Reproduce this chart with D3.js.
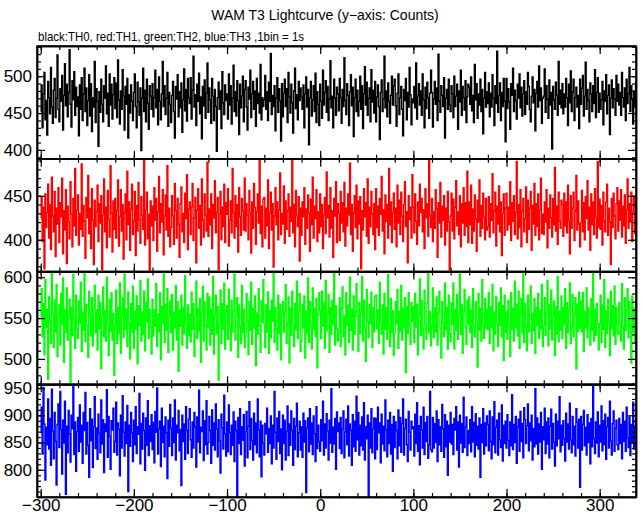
<!DOCTYPE html>
<html><head><meta charset="utf-8">
<script src="https://cdn.jsdelivr.net/npm/d3@7"></script>
<style>body{margin:0;background:#fff}svg{display:block}text{font-family:"Liberation Sans",Arial,Helvetica,sans-serif}</style>
</head><body><svg id="c" width="643" height="515"></svg>
<script>
const title = "WAM T3 Lightcurve (y\u2212axis: Counts)";
const subtitle = "black:TH0, red:TH1, green:TH2, blue:TH3 ,1bin = 1s";
const seriesNames = ["TH0","TH1","TH2","TH3"];
const seriesColors = ["#000000","#ff0000","#00ff00","#0000ff"];
const tStart = -300;
const xDomain = [-304, 339];
const xMajorTicks = [-300,-200,-100,0,100,200,300];
const yDomains = [[388,541],[364,492],[469,607],[750,957]];
const yMajorTicks = [[400,450,500],[400,450],[500,550,600],[800,850,900,950]];

const th0 = [
452,488,430,476,505,441,467,420,493,471,449,512,458,436,481,497,444,470,529,455,
438,483,466,501,427,474,517,460,489,445,478,536,462,431,494,468,506,447,485,459,
472,419,488,455,498,440,476,511,452,484,433,467,502,446,490,425,471,458,520,437,
483,466,405,479,451,496,462,438,487,470,514,449,477,432,503,461,489,442,475,498,
456,491,444,522,468,435,480,455,509,473,427,486,462,497,416,475,450,488,466,440,
478,503,459,430,492,465,447,484,399,470,511,452,481,438,496,463,428,487,473,455,
490,445,471,508,457,482,434,499,466,441,476,520,459,487,448,470,505,432,478,462,
437,474,493,452,416,486,469,502,445,479,457,491,424,468,510,453,482,439,497,471,
463,498,442,481,527,458,475,433,489,466,504,449,472,415,486,460,495,443,477,518,
451,484,468,436,497,473,440,482,459,398,471,492,455,480,429,506,464,448,488,467,
476,442,503,461,487,435,470,515,452,479,446,494,467,421,489,457,473,500,438,482,
494,458,427,485,469,508,444,476,493,455,480,432,497,463,477,450,516,441,471,459,
468,501,455,479,440,492,466,531,448,474,459,487,426,470,498,451,483,467,412,490,
445,477,496,459,483,437,505,472,450,489,464,423,480,511,456,475,441,493,467,484,
472,455,488,430,476,499,458,482,407,471,493,446,468,487,452,504,437,479,462,433,
489,466,443,508,461,478,494,451,486,440,469,521,457,473,430,496,470,447,485,476,
453,497,471,436,482,459,525,467,448,490,474,433,479,502,460,485,418,471,496,452,
481,446,466,500,455,487,429,476,513,461,492,447,470,484,438,509,465,481,450,493,
438,472,488,459,414,478,495,452,469,527,457,480,445,491,466,436,474,500,461,487,
496,460,432,477,503,448,471,486,455,419,482,467,497,441,478,458,512,475,434,469,
464,486,457,518,442,473,490,461,480,447,503,468,430,485,456,492,471,443,477,508,
478,431,469,493,462,484,440,530,466,451,487,474,459,498,416,470,482,455,496,461,
452,487,476,444,500,459,473,489,428,480,465,508,447,486,471,454,494,437,472,489,
485,462,499,453,474,437,516,468,490,443,476,461,496,452,482,422,470,505,458,479,
463,491,445,477,458,502,470,433,487,463,534,451,474,491,440,478,459,497,466,411,
497,456,483,465,428,490,474,511,452,481,467,442,489,470,503,457,485,446,476,494,
448,479,462,505,486,455,438,473,499,464,482,426,477,493,458,514,467,484,436,470,
473,510,451,487,469,443,495,461,478,401,486,468,455,492,474,447,520,462,481,457,
490,449,476,458,497,471,433,489,464,507,452,479,496,440,471,485,458,474,429,496,
462,484,501,446,473,519,455,482,467,438,491,476,452,487,463,509,444,478,498,451,
477,455,468,493,434,480,466,502,449,474,488,421,470,495,457,483,469,447,501,466,
489,461,478,447,505,471,458,484,440,496,463,476,512,452,487,469,435,480,458,492];

const th1 = [
425,448,398,437,367,452,414,431,463,402,440,389,471,427,409,455,381,436,418,459,
397,442,426,470,384,433,411,457,373,438,420,401,466,429,392,447,416,481,405,434,
451,394,430,412,486,404,439,421,379,448,425,473,407,436,390,458,422,372,445,415,
432,462,398,441,419,450,366,428,469,409,437,391,456,423,403,484,430,386,444,412,
447,402,433,468,393,426,457,410,440,378,431,452,400,478,417,443,388,435,463,406,
421,455,382,439,410,465,423,396,449,428,412,491,394,434,454,401,429,365,444,416,
438,399,459,422,447,387,432,472,408,441,420,457,383,427,451,411,484,404,436,392,
414,450,427,395,464,433,402,447,418,380,441,460,409,430,397,453,424,474,389,435,
443,406,437,464,399,425,448,374,434,458,413,439,394,469,422,403,452,428,410,488,
404,435,417,452,390,440,425,467,408,431,448,366,429,455,400,437,415,463,397,442,
429,458,393,422,444,408,481,431,402,450,415,440,386,459,426,405,447,433,411,470,
410,441,428,400,456,430,385,443,413,464,437,395,432,452,419,490,407,438,392,446,
448,402,436,416,468,390,430,454,411,441,369,427,459,417,443,400,434,476,406,430,
418,461,396,444,412,433,452,404,437,421,492,408,440,392,456,428,415,449,376,436,
405,443,426,459,395,435,413,451,430,387,446,417,471,402,438,424,457,398,432,408,
452,415,440,390,428,448,407,477,425,439,403,459,413,433,380,447,427,466,397,441,
430,399,455,419,442,409,465,393,436,416,452,428,487,406,440,387,431,450,414,462,
401,444,418,449,367,433,411,458,426,442,404,469,396,437,415,455,429,406,441,389,
458,414,438,405,447,429,472,410,434,384,451,421,440,402,481,417,443,397,431,453,
412,436,392,462,419,445,406,454,427,398,440,466,415,432,374,450,423,437,402,474,
437,408,452,421,395,443,416,463,431,447,409,434,390,458,425,441,404,490,428,414,
447,398,432,413,457,435,380,442,419,465,403,438,422,450,394,436,410,455,420,366,
427,453,410,446,401,437,467,416,432,406,450,392,441,419,459,405,442,415,478,397,
443,417,462,396,435,410,451,424,387,445,420,468,404,439,413,453,426,400,447,411,
415,449,403,441,422,475,408,433,454,393,438,418,461,409,443,382,430,452,405,436,
453,411,437,417,466,399,442,421,450,406,431,489,401,440,414,457,392,433,447,409,
424,460,397,445,412,436,455,388,439,418,464,405,441,415,452,400,434,470,407,429,
406,443,420,457,391,436,413,451,425,403,447,417,482,410,438,395,454,421,413,445,
440,404,453,416,443,408,462,422,384,450,413,436,454,399,433,473,411,444,418,392,
419,456,409,442,400,449,424,467,411,437,388,452,417,443,406,458,426,402,489,414,
446,412,439,394,454,421,409,443,463,405,436,420,372,447,414,453,427,401,441,459,
410,444,422,457,403,438,416,451,396,434,469,413,441,420,454,398,432,448,407,443];

const th2 = [
552,586,527,568,505,597,538,561,475,576,546,519,606,555,514,572,533,591,503,553,
566,517,580,542,599,496,560,533,587,523,553,573,471,563,529,603,549,513,578,537,
525,571,544,594,509,557,535,605,521,567,541,502,583,554,528,575,516,562,590,532,
560,511,578,537,569,488,552,588,527,559,522,600,541,504,573,534,581,523,556,480,
540,584,519,563,531,593,507,554,575,526,604,536,561,515,582,543,500,568,533,589,
513,558,536,577,494,565,541,596,522,557,530,583,510,569,545,598,525,561,539,506,
573,528,560,540,592,515,555,533,581,499,564,543,606,520,567,535,586,508,552,571,
532,579,511,557,538,590,523,570,485,560,540,578,517,563,531,602,544,513,566,529,
555,521,582,536,568,503,552,595,525,562,534,574,496,558,589,522,570,541,511,580,
539,576,517,561,530,601,506,554,578,531,564,474,543,584,519,568,536,593,512,558,
565,524,585,541,510,572,533,559,604,523,553,575,502,566,540,519,590,532,561,514,
528,580,545,505,570,535,594,518,562,538,577,492,556,530,586,541,508,571,545,597,
543,514,566,533,582,507,559,526,572,546,607,520,563,537,511,578,531,567,499,555,
570,533,557,591,519,544,576,495,562,529,583,541,515,568,536,595,525,559,580,509,
522,567,538,577,501,558,532,599,520,570,544,512,587,536,562,527,574,489,554,581,
559,525,583,540,569,513,596,534,555,579,508,563,530,572,542,605,517,565,537,522,
534,575,515,562,588,527,553,505,581,541,566,520,600,535,561,511,577,530,558,592,
552,509,569,531,557,601,522,572,538,497,585,546,526,567,543,582,514,563,533,576,
578,537,560,519,594,545,530,566,506,580,536,563,524,603,540,515,574,533,559,504,
531,570,543,585,513,558,534,590,523,562,539,575,483,564,531,581,541,518,569,546,
564,520,580,539,567,505,555,598,529,572,537,512,584,543,524,568,606,532,558,516,
540,587,526,562,533,576,517,557,583,538,501,570,544,527,593,536,563,512,578,531,
521,569,542,593,512,561,535,579,524,554,604,530,567,507,558,585,539,518,572,543,
576,532,560,514,586,540,527,570,545,490,580,535,562,522,597,541,525,574,537,561,
536,581,519,564,539,591,510,557,530,576,543,515,569,541,587,527,565,498,578,533,
558,524,572,543,503,581,536,562,522,595,539,567,528,583,513,555,574,532,604,520,
568,540,510,578,533,561,589,519,556,534,574,507,563,541,580,525,560,536,591,515,
541,575,529,557,596,516,566,537,584,523,553,571,504,564,530,601,521,558,535,577,
525,563,542,586,513,569,532,560,593,519,539,579,527,555,575,488,567,534,582,538,
571,533,581,509,558,538,587,526,563,541,517,574,535,605,522,561,529,568,543,511,
543,578,520,566,536,597,514,559,531,573,546,504,583,537,565,528,589,518,563,534,
530,569,544,522,592,539,512,575,535,560,586,526,570,541,495,577,532,562,520,567];

const th3 = [
868,915,829,951,884,781,878,846,930,838,894,808,948,871,820,905,852,772,883,921,
841,944,874,792,891,849,926,755,880,831,909,866,814,900,875,953,828,888,797,870,
896,834,919,851,882,812,905,872,942,829,887,845,786,912,853,893,804,879,934,839,
877,819,902,867,831,928,847,892,795,884,870,947,823,898,861,801,890,873,913,832,
852,924,827,886,874,789,900,840,936,869,825,888,848,918,760,882,843,905,868,815,
891,846,916,830,879,865,940,811,885,838,904,872,799,895,845,927,826,881,852,901,
837,887,813,907,869,950,829,875,889,806,913,850,880,824,897,868,784,891,843,920,
876,826,895,850,928,818,882,868,909,835,874,771,900,852,884,819,916,872,830,893,
912,855,823,888,840,905,879,805,897,851,946,831,878,870,908,817,890,846,927,829,
850,898,872,812,910,845,886,836,921,875,824,892,853,794,902,877,838,937,866,825,
888,833,919,868,828,882,845,906,815,889,872,751,896,848,912,828,879,854,901,807,
870,907,822,880,925,837,894,854,818,904,846,886,831,930,873,824,889,787,882,849,
827,885,866,913,832,876,848,899,811,882,840,944,869,819,895,852,907,830,875,800,
900,848,891,818,871,917,826,884,845,908,872,808,894,837,880,922,824,868,889,836,
879,823,904,851,890,758,876,895,833,912,847,886,828,899,866,815,916,839,882,852,
834,892,853,926,827,884,840,903,871,818,891,849,949,832,878,847,894,801,906,870,
886,839,896,830,875,908,822,869,893,846,917,825,884,872,808,901,842,889,834,935,
855,905,827,882,844,897,836,923,818,879,857,900,750,886,840,912,831,875,895,820,
894,837,915,868,886,813,902,847,880,835,928,873,824,891,848,905,829,883,797,898,
841,888,872,820,910,844,896,832,885,930,827,876,893,846,815,907,869,836,889,875,
879,825,902,848,923,834,881,809,898,873,840,915,828,887,852,898,821,846,944,837,
833,896,840,885,850,908,815,892,846,879,834,920,875,823,901,842,889,790,882,851,
905,847,883,828,894,873,916,836,888,805,900,849,885,832,933,841,878,897,826,872,
848,892,833,916,851,887,824,903,845,880,838,895,786,883,850,912,829,886,844,899,
883,835,908,852,820,897,846,925,831,878,891,827,904,855,841,919,816,882,848,889,
840,901,854,826,888,844,938,837,883,850,898,812,879,893,834,907,852,885,822,914,
892,848,881,921,835,886,853,900,818,876,842,949,847,895,829,884,851,905,801,879,
855,913,830,888,847,895,822,880,911,838,885,851,807,902,844,889,857,934,833,882,
845,890,857,816,904,851,884,838,922,855,831,898,846,880,825,912,887,840,893,768,
898,836,883,909,844,878,827,901,850,886,811,894,842,955,857,830,888,849,906,824,
882,851,917,835,890,846,902,819,879,896,840,926,853,827,885,908,834,876,891,846,
837,894,848,883,820,905,852,889,834,915,858,841,897,826,883,851,924,838,880,892];

const seriesData = [th0, th1, th2, th3];

(function draw() {
const svg = d3.select("#c");
svg.append("rect").attr("width",643).attr("height",515).attr("fill","#fff");
const pL = 37, pR = 636, pT = 46, pB = 497;
const ph = (pB - pT) / 4;
const x = d3.scaleLinear().domain(xDomain).range([pL, pR]);

svg.append("text").attr("x", 325).attr("y", 20).attr("text-anchor","middle")
  .attr("font-size", 14).text(title);
svg.append("text").attr("x", 38).attr("y", 41)
  .attr("font-size", 13).attr("textLength", 266).attr("lengthAdjust","spacingAndGlyphs").text(subtitle);

seriesData.forEach((vals, k) => {
  const y0 = pT + k*ph, y1 = y0 + ph;
  const y = d3.scaleLinear().domain(yDomains[k]).range([y1, y0]);
  const cid = "clip"+k;
  svg.append("clipPath").attr("id", cid).append("rect")
    .attr("x", pL).attr("y", y0).attr("width", pR-pL).attr("height", ph);
  const pts = vals.map((v,i) => [tStart + i, v]);
  const line = d3.line().x(d => x(d[0])).y(d => y(d[1])).curve(d3.curveStep);
  svg.append("path").attr("d", line(pts)).attr("fill","none")
    .attr("stroke", seriesColors[k]).attr("stroke-width", 1.4)
    .attr("clip-path", `url(#${cid})`);

  const yMinor = d3.range(Math.ceil(yDomains[k][0]/10)*10, yDomains[k][1]+0.01, 10);
  const axL = svg.append("g").attr("transform", `translate(${pL},0)`)
    .call(d3.axisLeft(y).tickValues(yMajorTicks[k]).tickSizeInner(-8).tickSizeOuter(0).tickPadding(5));
  svg.append("g").attr("transform", `translate(${pL},0)`)
    .call(d3.axisLeft(y).tickValues(yMinor).tickSizeInner(-4).tickSizeOuter(0).tickFormat(""));
  svg.append("g").attr("transform", `translate(${pR},0)`)
    .call(d3.axisRight(y).tickValues(yMajorTicks[k]).tickSizeInner(-8).tickSizeOuter(0).tickFormat(""));
  svg.append("g").attr("transform", `translate(${pR},0)`)
    .call(d3.axisRight(y).tickValues(yMinor).tickSizeInner(-4).tickSizeOuter(0).tickFormat(""));
  axL.selectAll("text").attr("font-size", 17).attr("font-family","Liberation Sans, Arial, sans-serif").attr("fill","#000");

  const xMinor = d3.range(-300, 340, 20);
  [[y0, d3.axisTop],[y1, d3.axisBottom]].forEach(([yy, fn]) => {
    svg.append("g").attr("transform", `translate(0,${yy})`)
      .call(fn(x).tickValues(xMajorTicks).tickSizeInner(-8).tickSizeOuter(0).tickFormat(""));
    svg.append("g").attr("transform", `translate(0,${yy})`)
      .call(fn(x).tickValues(xMinor).tickSizeInner(-4).tickSizeOuter(0).tickFormat(""));
  });
});

const axB = svg.append("g").attr("transform", `translate(0,${pB})`)
  .call(d3.axisBottom(x).tickValues(xMajorTicks).tickSize(0).tickPadding(2)
    .tickFormat(d => d < 0 ? "\u2212" + Math.abs(d) : String(d)));
axB.select(".domain").remove();
axB.selectAll("text").attr("font-size", 17).attr("font-family","Liberation Sans, Arial, sans-serif").attr("fill","#000");

svg.selectAll(".domain").attr("stroke","#000").attr("stroke-width",1.5);
svg.selectAll(".tick line").attr("stroke","#000").attr("stroke-width",1.2);

for (let k = 0; k < 4; k++) {
  svg.append("rect").attr("x", pL).attr("y", pT + k*ph).attr("width", pR-pL).attr("height", ph)
    .attr("fill","none").attr("stroke","#000").attr("stroke-width",1.5);
}
})();
</script></body></html>
